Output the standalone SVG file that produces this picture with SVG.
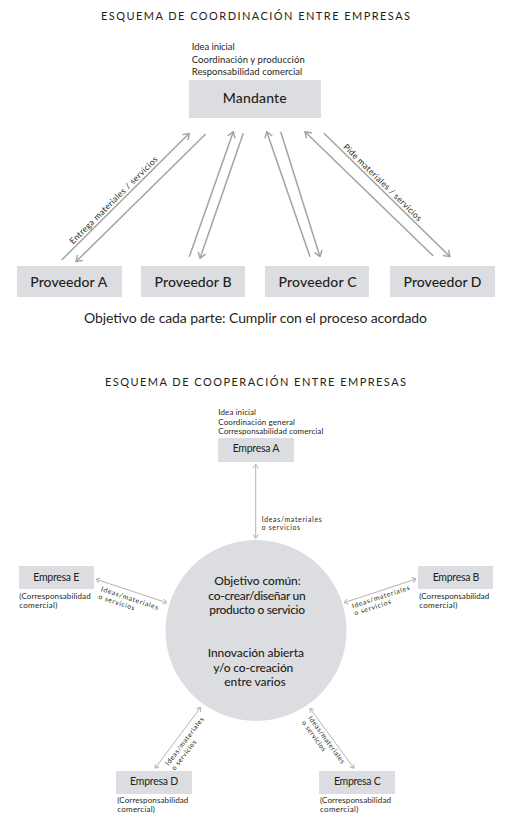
<svg xmlns="http://www.w3.org/2000/svg" width="515" height="827" viewBox="0 0 515 827">
<style>
text{font-family:Lato,"Liberation Sans",sans-serif;fill:#231f20}
.title{font-size:11px;text-anchor:middle}
.box{fill:#dcdde0}
.bl{font-size:14px;font-weight:500;text-anchor:middle}
.sl{font-size:10.5px;text-anchor:middle}
.note{font-size:9.5px}
.note2{font-size:8px}
.lab{font-size:8.5px}
.lab2{font-size:6.8px}
.ct{font-size:12px;font-weight:500;text-anchor:middle}
.arr{stroke:#a3a3a3;stroke-width:1.5;fill:none;marker-end:url(#ah)}
.arr2{stroke:#b3b3b3;stroke-width:1;fill:none;marker-start:url(#ahs);marker-end:url(#ahs)}
</style>
<defs>
<marker id="ah" viewBox="0 0 10 10" refX="9.4" refY="5" markerWidth="9" markerHeight="9" markerUnits="userSpaceOnUse" orient="auto-start-reverse">
<path d="M3,0.7 L9.4,5 L3,9.3" fill="none" stroke="#a3a3a3" stroke-width="1.6"/>
</marker>
<marker id="ahs" viewBox="0 0 10 10" refX="9.4" refY="5" markerWidth="6" markerHeight="6" markerUnits="userSpaceOnUse" orient="auto-start-reverse">
<path d="M3,0.7 L9.4,5 L3,9.3" fill="none" stroke="#b3b3b3" stroke-width="1.6"/>
</marker>
</defs>

<!-- Top section -->
<text class="title" x="255.5" y="20" textLength="309" lengthAdjust="spacing">ESQUEMA DE COORDINACIÓN ENTRE EMPRESAS</text>

<g id="mandante">
<text class="note" x="191.7" y="50" textLength="43" lengthAdjust="spacing">Idea inicial</text>
<text class="note" x="191.7" y="62.5" textLength="113" lengthAdjust="spacing">Coordinación y producción</text>
<text class="note" x="191.7" y="75" textLength="110.6" lengthAdjust="spacing">Responsabilidad comercial</text>
<rect class="box" x="189" y="80" width="132" height="38"/>
<text class="bl" x="254.7" y="103.3" font-size="15" textLength="64" lengthAdjust="spacing">Mandante</text>
</g>

<g id="proveedor-a">
<rect class="box" x="17" y="266" width="105" height="31"/>
<text class="bl" x="68.7" y="286.7" textLength="77" lengthAdjust="spacing">Proveedor A</text>
</g>
<g id="proveedor-b">
<rect class="box" x="141" y="266" width="104" height="31"/>
<text class="bl" x="193" y="286.7" textLength="77" lengthAdjust="spacing">Proveedor B</text>
</g>
<g id="proveedor-c">
<rect class="box" x="265" y="266" width="104" height="31"/>
<text class="bl" x="317.5" y="286.7" textLength="78" lengthAdjust="spacing">Proveedor C</text>
</g>
<g id="proveedor-d">
<rect class="box" x="390" y="266" width="105" height="31"/>
<text class="bl" x="442.5" y="286.7" textLength="78" lengthAdjust="spacing">Proveedor D</text>
</g>

<g id="connectors-top">
<line class="arr" x1="61.7" y1="260" x2="189.3" y2="133.3"/>
<line class="arr" x1="205.7" y1="134" x2="76" y2="261.7"/>
<line class="arr" x1="189.3" y1="256.7" x2="233.3" y2="131.7"/>
<line class="arr" x1="243.3" y1="133.3" x2="200" y2="258.3"/>
<line class="arr" x1="310" y1="256.7" x2="266.7" y2="131.7"/>
<line class="arr" x1="280.7" y1="131.7" x2="320" y2="256.7"/>
<line class="arr" x1="433.3" y1="256" x2="305" y2="131.7"/>
<line class="arr" x1="324" y1="133.3" x2="450" y2="256.7"/>
<text class="lab" text-anchor="middle" transform="translate(115.6,202.3) rotate(-44.8)" textLength="120" lengthAdjust="spacing">Entrega materiales / servicios</text>
<text class="lab" text-anchor="middle" transform="translate(380.5,184.5) rotate(44.4)" textLength="106" lengthAdjust="spacing">Pide materiales / servicios</text>
</g>

<text x="255.5" y="323" font-size="14" text-anchor="middle" textLength="343" lengthAdjust="spacing">Objetivo de cada parte: Cumplir con el proceso acordado</text>

<!-- Bottom section -->
<text class="title" x="255.5" y="385.7" textLength="301" lengthAdjust="spacing">ESQUEMA DE COOPERACIÓN ENTRE EMPRESAS</text>

<g id="empresa-a">
<text class="note2" x="218.3" y="415" textLength="37.7" lengthAdjust="spacing">Idea inicial</text>
<text class="note2" x="218.3" y="424.5" textLength="76.7" lengthAdjust="spacing">Coordinación general</text>
<text class="note2" x="218.3" y="434" textLength="105" lengthAdjust="spacing">Corresponsabilidad comercial</text>
<rect class="box" x="218" y="438" width="76" height="24"/>
<text class="sl" x="256" y="452.3" textLength="46.6" lengthAdjust="spacing">Empresa A</text>
</g>

<g id="objetivo">
<circle cx="256" cy="630.5" r="90.5" fill="#dcdde0"/>
<text class="ct" x="257.5" y="585" textLength="86.4" lengthAdjust="spacing">Objetivo común:</text>
<text class="ct" x="257" y="600" textLength="97.3" lengthAdjust="spacing">co-crear/diseñar un</text>
<text class="ct" x="257.2" y="614.3" textLength="95.7" lengthAdjust="spacing">producto o servicio</text>
<text class="ct" x="255.8" y="656.7" textLength="96.3" lengthAdjust="spacing">Innovación abierta</text>
<text class="ct" x="253.3" y="671.7" textLength="80" lengthAdjust="spacing">y/o co-creación</text>
<text class="ct" x="255" y="685.7" textLength="61.4" lengthAdjust="spacing">entre varios</text>
</g>

<g id="empresa-e">
<rect class="box" x="19" y="566" width="75" height="23"/>
<text class="sl" x="56.3" y="580.7" textLength="46" lengthAdjust="spacing">Empresa E</text>
<text class="note2" x="19.3" y="599" textLength="71.4" lengthAdjust="spacing">(Corresponsabilidad</text>
<text class="note2" x="19.3" y="607.7" textLength="38" lengthAdjust="spacing">comercial)</text>
</g>

<g id="empresa-b">
<rect class="box" x="418" y="566" width="75" height="23"/>
<text class="sl" x="456" y="580.7" textLength="46.6" lengthAdjust="spacing">Empresa B</text>
<text class="note2" x="419.3" y="599" textLength="70" lengthAdjust="spacing">(Corresponsabilidad</text>
<text class="note2" x="419.3" y="607.7" textLength="38" lengthAdjust="spacing">comercial)</text>
</g>

<g id="empresa-d">
<rect class="box" x="116" y="771" width="76" height="23"/>
<text class="sl" x="154.2" y="785" textLength="48.3" lengthAdjust="spacing">Empresa D</text>
<text class="note2" x="117.3" y="802.7" textLength="71" lengthAdjust="spacing">(Corresponsabilidad</text>
<text class="note2" x="117.3" y="811.7" textLength="37.7" lengthAdjust="spacing">comercial)</text>
</g>

<g id="empresa-c">
<rect class="box" x="319" y="771" width="76" height="23"/>
<text class="sl" x="357.3" y="785" textLength="46.7" lengthAdjust="spacing">Empresa C</text>
<text class="note2" x="320" y="802.7" textLength="71" lengthAdjust="spacing">(Corresponsabilidad</text>
<text class="note2" x="320" y="811.7" textLength="38.3" lengthAdjust="spacing">comercial)</text>
</g>

<g id="connectors-bottom">
<line class="arr2" x1="255.7" y1="464.3" x2="255.7" y2="538.3"/>
<line class="arr2" x1="96" y1="579.3" x2="166.7" y2="602.7"/>
<line class="arr2" x1="344" y1="602.7" x2="416" y2="579"/>
<line class="arr2" x1="155" y1="768.3" x2="200.7" y2="707.3"/>
<line class="arr2" x1="310" y1="708.3" x2="354" y2="768.3"/>
<text class="lab2" x="261.7" y="522" textLength="60" lengthAdjust="spacing">Ideas/materiales</text>
<text class="lab2" x="261.7" y="530" textLength="38.3" lengthAdjust="spacing">o servicios</text>
<g transform="translate(100.5,591) rotate(18.3)">
<text class="lab2" x="0" y="0" textLength="60" lengthAdjust="spacing">Ideas/materiales</text>
<text class="lab2" x="0" y="8" textLength="37.6" lengthAdjust="spacing">o servicios</text>
</g>
<g transform="translate(352.7,608.5) rotate(-18.2)">
<text class="lab2" x="0" y="0" textLength="60.4" lengthAdjust="spacing">Ideas/materiales</text>
<text class="lab2" x="0" y="7.5" textLength="38.2" lengthAdjust="spacing">o servicios</text>
</g>
<g transform="translate(168.5,766) rotate(-52.6)">
<text class="lab2" x="0" y="0" textLength="58.8" lengthAdjust="spacing">Ideas/materiales</text>
<text class="lab2" x="0" y="8" textLength="36" lengthAdjust="spacing">o servicios</text>
</g>
<g transform="translate(308,718) rotate(54)">
<text class="lab2" x="0" y="0" textLength="57" lengthAdjust="spacing">Ideas/materiales</text>
<text class="lab2" x="0" y="8" textLength="36" lengthAdjust="spacing">o servicios</text>
</g>
</g>
</svg>
